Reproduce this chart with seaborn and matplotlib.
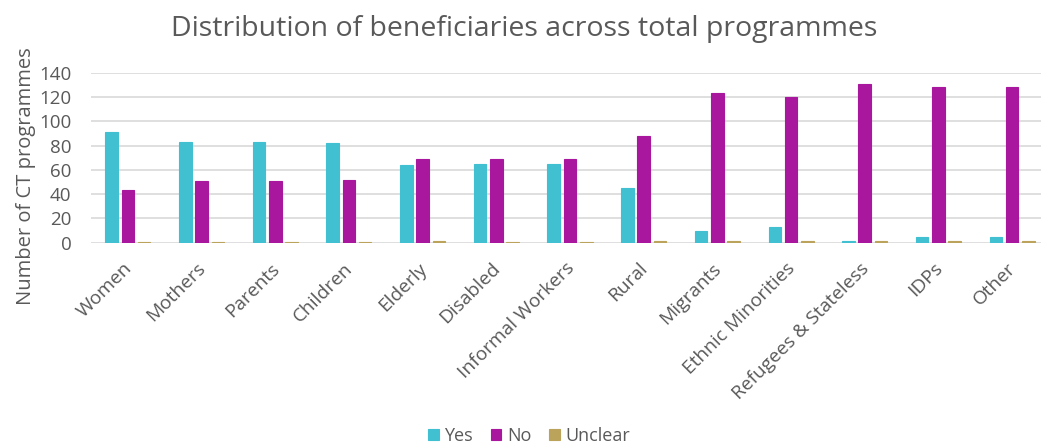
import matplotlib
matplotlib.use("Agg")
import matplotlib.pyplot as plt
import matplotlib.transforms as mtransforms
import seaborn as sns
import pandas as pd

categories = ["Women", "Mothers", "Parents", "Children", "Elderly", "Disabled",
              "Informal Workers", "Rural", "Migrants", "Ethnic Minorities",
              "Refugees & Stateless", "IDPs", "Other"]
yes_values = [91, 83, 83, 82, 64, 65, 65, 45, 10, 13, 1, 5, 5]
no_values = [43, 51, 51, 52, 69, 69, 69, 88, 123, 120, 131, 128, 128]
unclear_values = [0.5, 0.5, 0.5, 0.5, 1.2, 0.5, 0.5, 1, 1, 1, 1, 1, 1]
series_names = ["Yes", "No", "Unclear"]
y_ticks = [0, 20, 40, 60, 80, 100, 120, 140]

df = pd.DataFrame({
    "category": categories * 3,
    "value": yes_values + no_values + unclear_values,
    "answer": [s for s in series_names for _ in categories],
})

sns.set_theme(style="white")
plt.rcParams["font.family"] = ["Open Sans", "DejaVu Sans"]

text_grey = "#595959"
palette = {"Yes": "#40C0D0", "No": "#A8179E", "Unclear": "#BBA35B"}

fig = plt.figure(figsize=(10.41, 4.44), dpi=100)
ax = fig.add_axes([91 / 1041, (444 - 242.7) / 444, 958 / 1041, 170 / 444])

sns.barplot(data=df, x="category", y="value", hue="answer", order=categories,
            hue_order=series_names, palette=palette, width=0.663, gap=0.23,
            saturation=1, ax=ax, legend=True)

# thin outline in each bar's own colour keeps the tiny bars visible
for patch in ax.patches:
    patch.set_edgecolor(patch.get_facecolor())
    patch.set_linewidth(0.8)
    patch.set_zorder(3)

ax.set_ylim(0, 140)
ax.set_yticks(y_ticks)
ax.set_xlim(-0.5, len(categories) - 0.5)
ax.yaxis.grid(True, color="#D9D9D9", linewidth=1.2)
ax.set_axisbelow(True)
for side in ["top", "right", "left", "bottom"]:
    ax.spines[side].set_visible(False)

ax.tick_params(axis="y", labelsize=13.5, labelcolor=text_grey, length=0, pad=14)
ax.tick_params(axis="x", labelsize=13.8, labelcolor=text_grey, length=0, pad=12)
shift_left = mtransforms.ScaledTranslation(-5 / 100, 0, fig.dpi_scale_trans)
for lbl in ax.get_xticklabels():
    lbl.set_rotation(45)
    lbl.set_ha("right")
    lbl.set_rotation_mode("anchor")
    lbl.set_transform(lbl.get_transform() + shift_left)

ax.set_xlabel("")
ax.set_ylabel("Number of CT programmes", fontsize=14.5, color=text_grey)
ax.yaxis.set_label_coords(-55 / 958, (242.7 - 176) / 170)

fig.suptitle("Distribution of beneficiaries across total programmes",
             fontsize=20.5, color=text_grey, x=524 / 1041, y=1 - 29 / 444, va="center")

handles, labels = ax.get_legend_handles_labels()
ax.legend_.remove()
fig.legend(handles, labels, loc="center", bbox_to_anchor=(529 / 1041, 1 - 436 / 444),
           ncol=3, frameon=False, fontsize=13, labelcolor=text_grey,
           handlelength=0.6, handleheight=0.6, handletextpad=0.3, columnspacing=1.0)

fig.savefig("out.png", dpi=100)
